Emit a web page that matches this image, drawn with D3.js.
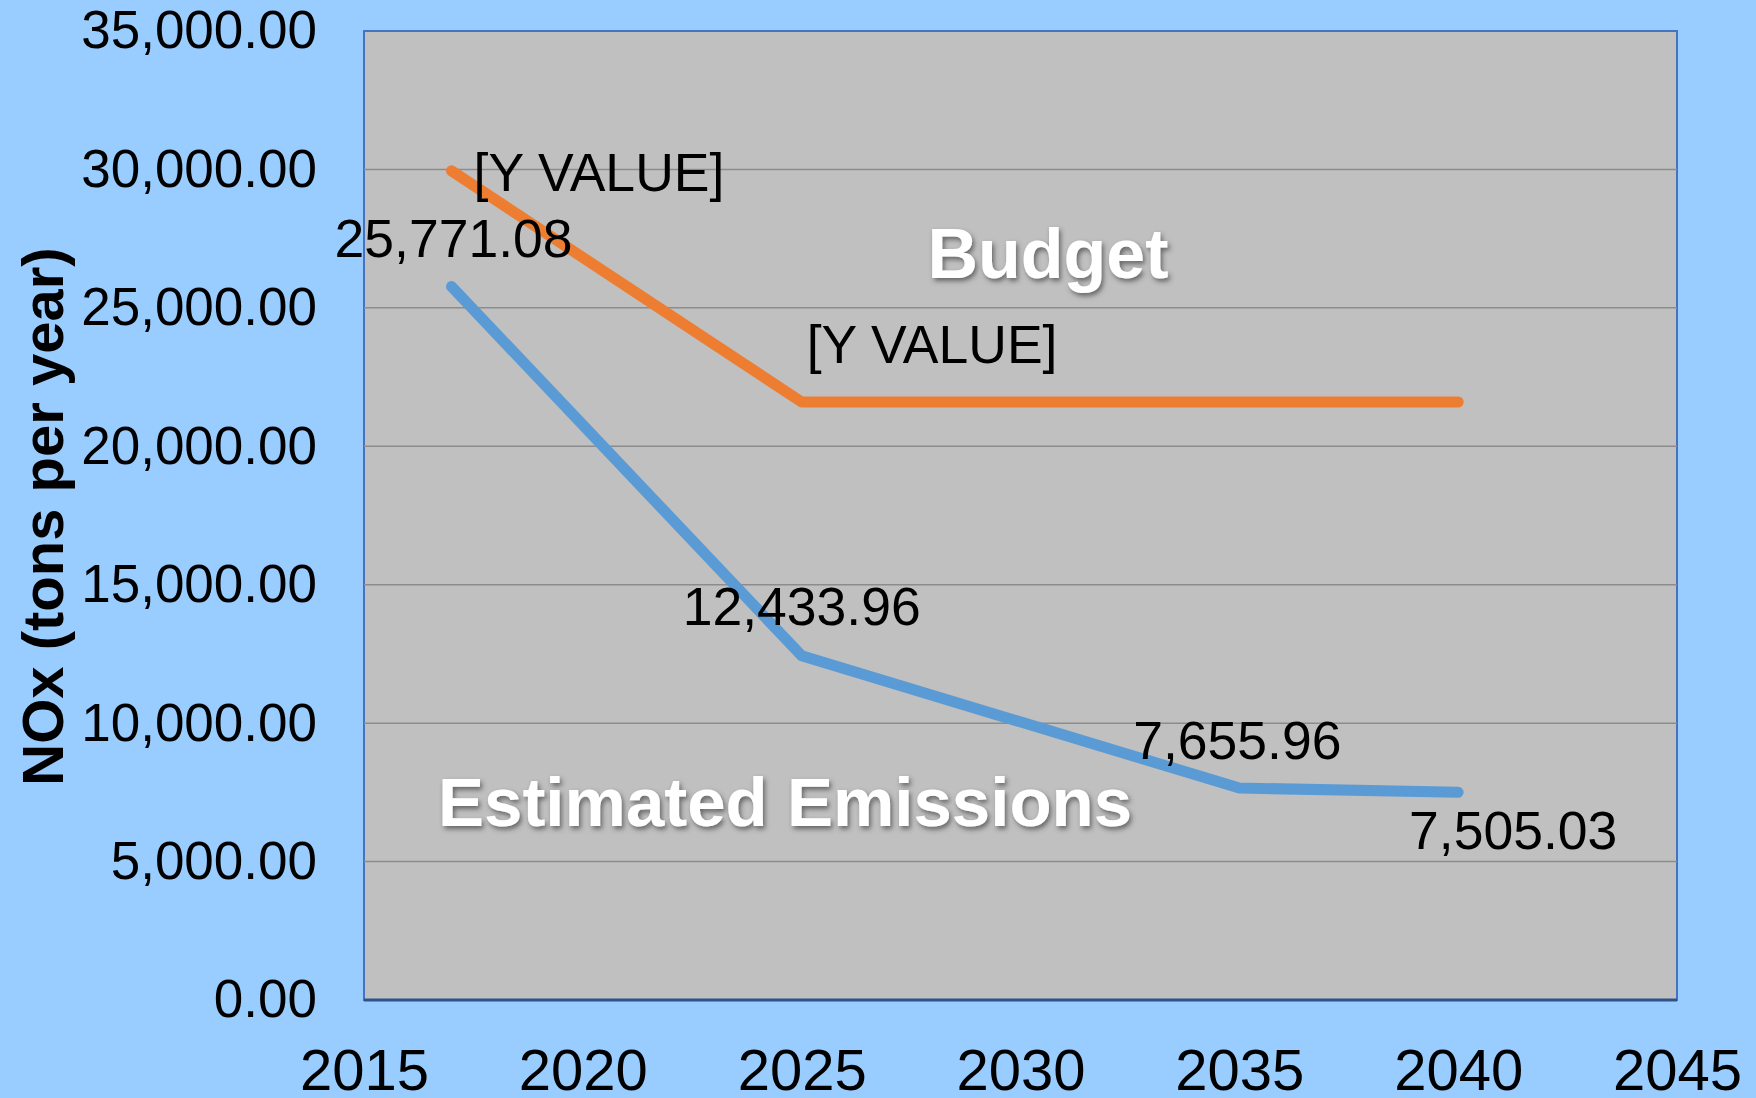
<!DOCTYPE html>
<html>
<head>
<meta charset="utf-8">
<script src="https://cdn.jsdelivr.net/npm/d3@7"></script>
<style>
    body { margin: 0; background: #99ccff; }
    text { font-family: "Liberation Sans", Arial, sans-serif; }
</style>
</head>
<body>
<div id="chart"></div>
<script>
'use strict';

// emissions series
var emissionYears = [2017, 2025, 2035, 2040];
var emissions = [25771.08, 12433.96, 7655.96, 7505.03];

// budget series
var budgetYears = [2017, 2025, 2040];
var budget = [29950, 21600, 21600];
var budgetLabels = ['[Y VALUE]', '[Y VALUE]', ''];

var xTicks = [2015, 2020, 2025, 2030, 2035, 2040, 2045];
var yTicks = [0, 5000, 10000, 15000, 20000, 25000, 30000, 35000];

var W = 1756, H = 1098;
var margin = { top: 31, right: 79, bottom: 98, left: 364 };
var w = W - margin.left - margin.right;
var h = H - margin.top - margin.bottom;

var svg = d3.select('#chart')
    .append('svg')
    .attr('width', W)
    .attr('height', H);

var defs = svg.append('defs');
defs.append('filter')
    .attr('id', 'shadow')
    .attr('x', '-10%').attr('y', '-30%')
    .attr('width', '120%').attr('height', '160%')
    .append('feDropShadow')
    .attr('dx', 2).attr('dy', 3)
    .attr('stdDeviation', 2.5)
    .attr('flood-color', '#404040')
    .attr('flood-opacity', 0.7);

var g = svg.append('g')
    .attr('transform', 'translate(' + margin.left + ',' + margin.top + ')');

var x = d3.scaleLinear().domain([2015, 2045]).range([0, w]);
var y = d3.scaleLinear().domain([0, 35000]).range([h, 0]);

// plot area
g.append('rect')
    .attr('width', w)
    .attr('height', h)
    .attr('fill', '#c0c0c0')
    .attr('stroke', '#4472c4')
    .attr('stroke-width', 2);

// gridlines
g.selectAll('.grid')
    .data(yTicks.filter(function (d) { return d > 0 && d < 35000; }))
    .enter()
    .append('line')
    .attr('x1', 0).attr('x2', w)
    .attr('y1', function (d) { return y(d); })
    .attr('y2', function (d) { return y(d); })
    .attr('stroke', '#8c8c8c')
    .attr('stroke-width', 1.5);

g.append('line')
    .attr('x1', 0).attr('x2', w)
    .attr('y1', h).attr('y2', h)
    .attr('stroke', '#2f528f')
    .attr('stroke-width', 3);

// axes
var yAxis = g.append('g')
    .call(d3.axisLeft(y).tickValues(yTicks).tickFormat(d3.format(',.2f')).tickSize(0).tickPadding(47));
var xAxis = g.append('g')
    .attr('transform', 'translate(0,' + h + ')')
    .call(d3.axisBottom(x).tickValues(xTicks).tickFormat(d3.format('d')).tickSize(0).tickPadding(49));

[yAxis, xAxis].forEach(function (a) {
    a.select('.domain').remove();
    a.selectAll('text').attr('fill', '#000').style('font-family', '"Liberation Sans", Arial, sans-serif');
});
yAxis.selectAll('text').style('font-size', '53px');
xAxis.selectAll('text').style('font-size', '58px');

svg.append('text')
    .attr('transform', 'translate(42,' + (margin.top + h / 2 + 1) + ') rotate(-90)')
    .attr('text-anchor', 'middle')
    .attr('dominant-baseline', 'central')
    .style('font-size', '58px')
    .style('font-weight', 'bold')
    .text('NOx (tons per year)');

// lines
var line = d3.line()
    .x(function (d) { return x(d[0]); })
    .y(function (d) { return y(d[1]); });

var budgetPts = d3.zip(budgetYears, budget);
var emissionPts = d3.zip(emissionYears, emissions);

g.append('path')
    .datum(budgetPts)
    .attr('d', line)
    .attr('fill', 'none')
    .attr('stroke', '#ed7d31')
    .attr('stroke-width', 11)
    .attr('stroke-linecap', 'round')
    .attr('stroke-linejoin', 'round');

g.append('path')
    .datum(emissionPts)
    .attr('d', line)
    .attr('fill', 'none')
    .attr('stroke', '#5b9bd5')
    .attr('stroke-width', 11)
    .attr('stroke-linecap', 'round')
    .attr('stroke-linejoin', 'round');

// data labels (placement as in the original chart)
var budgetPlace = [[22, 2, 'start'], [5, -57, 'start'], [0, 0, 'middle']];
var emissionPlace = [[2, -48, 'middle'], [0, -49, 'middle'], [-2, -48, 'middle'], [55, 38, 'middle']];

g.selectAll('.blabel')
    .data(budgetPts)
    .enter()
    .append('text')
    .attr('x', function (d, i) { return x(d[0]) + budgetPlace[i][0]; })
    .attr('y', function (d, i) { return y(d[1]) + budgetPlace[i][1]; })
    .attr('text-anchor', function (d, i) { return budgetPlace[i][2]; })
    .attr('dominant-baseline', 'central')
    .style('font-size', '53.5px')
    .text(function (d, i) { return budgetLabels[i]; });

g.selectAll('.elabel')
    .data(emissionPts)
    .enter()
    .append('text')
    .attr('x', function (d, i) { return x(d[0]) + emissionPlace[i][0]; })
    .attr('y', function (d, i) { return y(d[1]) + emissionPlace[i][1]; })
    .attr('text-anchor', function (d, i) { return emissionPlace[i][2]; })
    .attr('dominant-baseline', 'central')
    .style('font-size', '53.5px')
    .text(function (d) { return d3.format(',.2f')(d[1]); });

// series names
g.append('text')
    .attr('x', x(2030.63))
    .attr('y', y(26950))
    .attr('text-anchor', 'middle')
    .attr('dominant-baseline', 'central')
    .attr('fill', '#fff')
    .attr('filter', 'url(#shadow)')
    .style('font-size', '70px')
    .style('font-weight', 'bold')
    .text('Budget');

g.append('text')
    .attr('x', x(2024.62))
    .attr('y', y(7150))
    .attr('text-anchor', 'middle')
    .attr('dominant-baseline', 'central')
    .attr('fill', '#fff')
    .attr('filter', 'url(#shadow)')
    .style('font-size', '69px')
    .style('font-weight', 'bold')
    .text('Estimated Emissions');
</script>
</body>
</html>
